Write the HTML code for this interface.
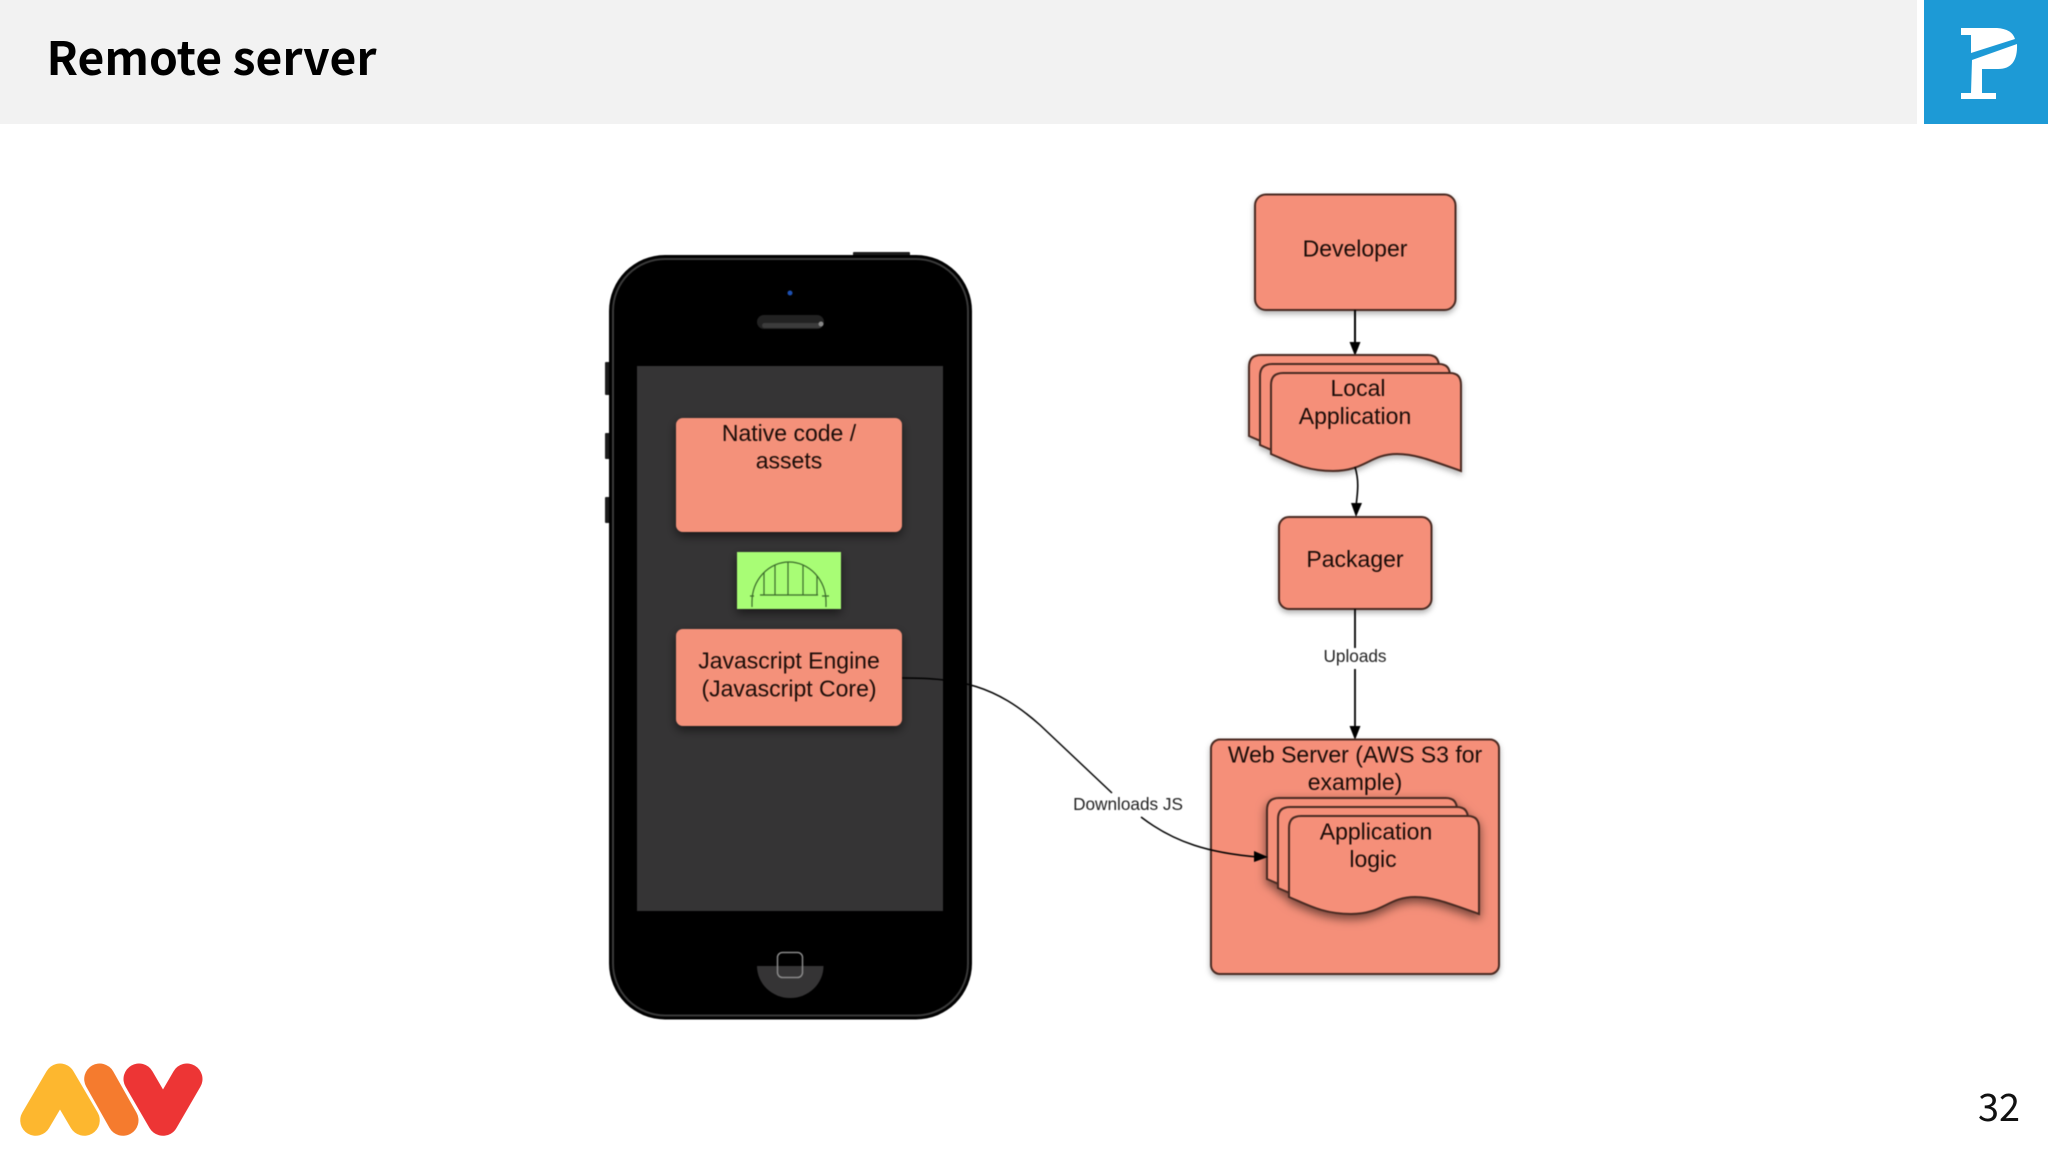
<!DOCTYPE html>
<html><head><meta charset="utf-8"><style>
html,body{margin:0;padding:0;background:#fff;width:2048px;height:1152px;overflow:hidden}
svg{display:block}
.t{font-family:"Liberation Sans",sans-serif;font-size:23px;fill:#1a0c08;text-anchor:middle}
.s{font-family:"Liberation Sans",sans-serif;font-size:17.2px;fill:#222;text-anchor:middle}
.d{filter:blur(.45px)}
</style></head><body>
<svg width="2048" height="1152" viewBox="0 0 2048 1152" xmlns="http://www.w3.org/2000/svg">
<defs>
<filter id="sh" x="-20%" y="-20%" width="140%" height="140%"><feDropShadow dx="0" dy="3" stdDeviation="3" flood-color="#000" flood-opacity=".3"/></filter>
<filter id="sh2" x="-20%" y="-20%" width="140%" height="140%"><feDropShadow dx="0" dy="4" stdDeviation="5" flood-color="#000" flood-opacity=".55"/></filter>
<path id="doc" d="M1271,454 L1271,385 Q1271,373 1283,373 L1450,373 Q1461,373 1461,385 L1461,471 C1430,460 1415,454 1397,454 C1370,454 1365,471 1333,471 C1305,471 1290,462 1271,454 Z" fill="#f58f79" stroke="#4a2a22" stroke-width="2"/>
</defs>
<rect x="0" y="0" width="1917" height="124" fill="#f2f2f2"/>
<rect x="1924" y="0" width="124" height="124" fill="#1d9ad6"/>
<path d="M1961,28 L1997,28 Q2012,29 2015,39 L1971,53 L1971,35 L1961,35 Z" fill="#fff"/>
<path d="M1972,60 L2017,44 Q2018,69 1998,69 L1982,69 L1982,93 L1996,93 L1996,99 L1961,99 L1961,93 L1971,93 Z" fill="#fff"/>
<text x="46.500" y="75" font-family="'Noto Sans CJK JP','Liberation Sans',sans-serif" font-weight="700" font-size="46" fill="#000" textLength="330" lengthAdjust="spacingAndGlyphs">Remote server</text>

<g class="d">
<!-- phone -->
<rect x="605" y="362" width="6" height="33" rx="1" fill="#1c1c1c"/>
<rect x="605" y="433" width="6" height="26" rx="1" fill="#1c1c1c"/>
<rect x="605" y="497" width="6" height="26" rx="1" fill="#1c1c1c"/>
<rect x="853" y="252" width="57" height="6" rx="1" fill="#1c1c1c"/>
<rect x="609" y="255" width="363" height="764.500" rx="56" fill="#000"/>
<rect x="613" y="259" width="355" height="756.500" rx="52" fill="none" stroke="#3a3a3a" stroke-width="2"/>
<rect x="616" y="262" width="349" height="750" rx="50" fill="#000"/>
<rect x="637" y="366" width="306" height="545" fill="#353435"/>
<circle cx="790" cy="293" r="2.500" fill="#1c4fb0"/>
<rect x="757" y="315" width="67" height="14" rx="7" fill="#222"/>
<rect x="762" y="323" width="60" height="5" rx="2.500" fill="#3c3c3c"/>
<circle cx="821" cy="324" r="2.500" fill="#888"/>
<path d="M757,966 L823.500,966 A33.250,32 0 0 1 757,966 Z" fill="#353435"/>
<rect x="777.500" y="952.500" width="25" height="25" rx="5" fill="none" stroke="#8a8a8a" stroke-width="1.500"/>

<rect x="676" y="418" width="226" height="114" rx="7" fill="#f4917a" filter="url(#sh2)"/>
<rect x="737" y="552" width="104" height="57" fill="#a8fd75" filter="url(#sh2)"/>
<g fill="none" stroke="#3a6a2a" stroke-width="1.200">
<path d="M752,602 A37,40 0 0 1 826,602 M752,602 V607 M826,602 V607"/>
<path d="M760,595 H818 M750,596 H754 M822,596 H829 M764,572.500 V595 M775,564.500 V595 M788,562 V595 M803,565 V595 M817,576 V595"/>
</g>
<rect x="676" y="629" width="226" height="97" rx="7" fill="#f4917a" filter="url(#sh2)"/>
<text class="t" x="789" y="441">Native code /</text>
<text class="t" x="789" y="468.500">assets</text>
<text class="t" x="789" y="668.500">Javascript Engine</text>
<text class="t" x="789" y="696.500">(Javascript Core)</text>

<!-- right flow -->
<rect x="1255" y="194.500" width="200.500" height="115.500" rx="11" fill="#f58f79" stroke="#4a2a22" stroke-width="2" filter="url(#sh)"/>
<text class="t" x="1355" y="256.500">Developer</text>
<path d="M1355,310 V345" stroke="#000" stroke-width="2" fill="none"/>
<path d="M1349.500,342 H1360.500 L1355,356 Z" fill="#000"/>
<g filter="url(#sh)">
<use href="#doc" x="-22" y="-18"/><use href="#doc" x="-11" y="-9"/><use href="#doc"/>
</g>
<text class="t" x="1358" y="396">Local</text>
<text class="t" x="1355" y="424">Application</text>
<path d="M1355,467 C1359,480 1358,490 1356,506" stroke="#000" stroke-width="1.600" fill="none"/>
<path d="M1351,503 H1362 L1356,517 Z" fill="#000"/>
<rect x="1279" y="517" width="152.500" height="92" rx="10" fill="#f58f79" stroke="#4a2a22" stroke-width="2" filter="url(#sh)"/>
<text class="t" x="1355" y="567">Packager</text>
<path d="M1355,609 V648 M1355,669 V730" stroke="#000" stroke-width="1.800" fill="none"/>
<text class="s" x="1355" y="662">Uploads</text>
<path d="M1349.500,726 H1360.500 L1355,740 Z" fill="#000"/>
<rect x="1211" y="739.500" width="288" height="234.500" rx="9" fill="#f58f79" stroke="#4a2a22" stroke-width="2" filter="url(#sh)"/>
<text class="t" x="1355" y="762.500">Web Server (AWS S3 for</text>
<text class="t" x="1355" y="790">example)</text>
<g transform="translate(18,443)" filter="url(#sh2)">
<use href="#doc" x="-22" y="-18"/><use href="#doc" x="-11" y="-9"/><use href="#doc"/>
</g>
<text class="t" x="1376" y="839.500">Application</text>
<text class="t" x="1373" y="867">logic</text>

<path d="M902,678 C960,678 995,685 1040,725 L1112,793" stroke="#000" stroke-width="1.500" fill="none"/>
<path d="M1141,817 C1175,843 1210,853 1258,857" stroke="#000" stroke-width="1.500" fill="none"/>
<path d="M1254,851 L1268,857 L1254,862 Z" fill="#000"/>
<text class="s" x="1128" y="810">Downloads JS</text>
</g>

<!-- logo -->
<path d="M35.700,1120.300 L60,1079 L84.300,1120.300" fill="none" stroke="#fdb72f" stroke-width="31" stroke-linecap="round" stroke-linejoin="round"/>
<path d="M99.700,1079 L123,1120.300" fill="none" stroke="#f57b2e" stroke-width="31" stroke-linecap="round"/>
<path d="M139,1079 L163,1120.300 L187,1079" fill="none" stroke="#ed3535" stroke-width="31" stroke-linecap="round" stroke-linejoin="round"/>
<text x="1978" y="1121" font-family="'Noto Sans CJK JP','Liberation Sans',sans-serif" font-size="38" fill="#111" textLength="42" lengthAdjust="spacingAndGlyphs">32</text>
</svg>
</body></html>
